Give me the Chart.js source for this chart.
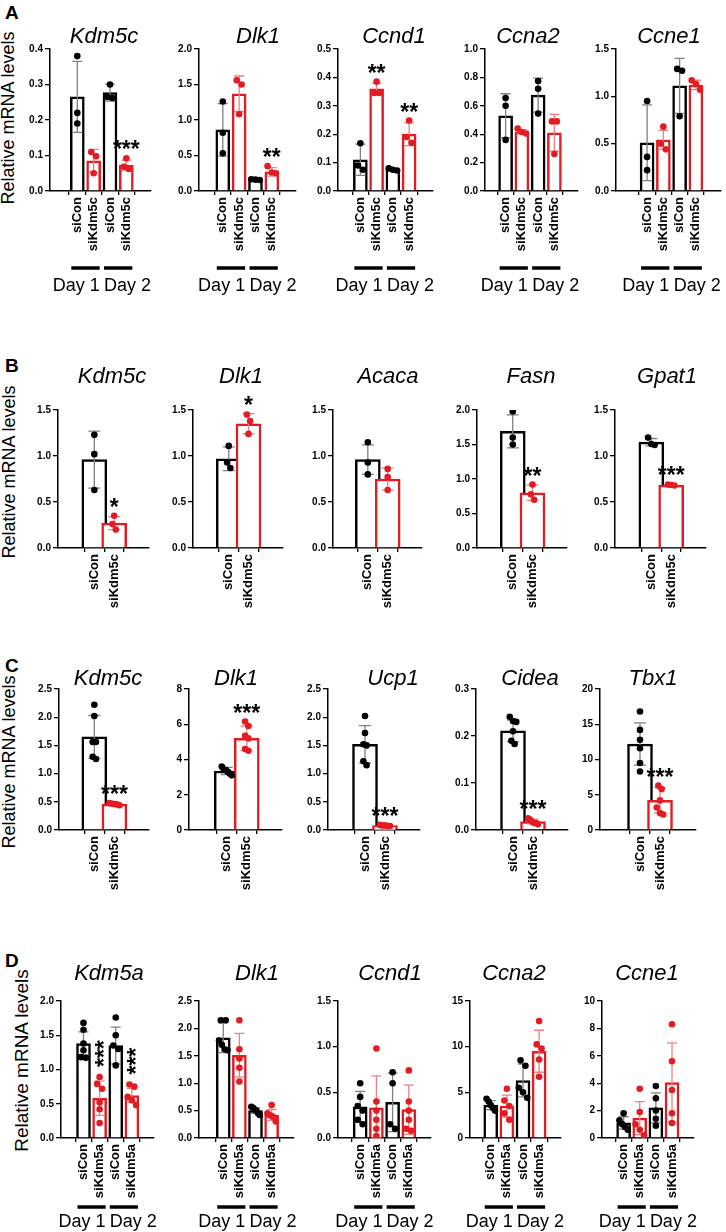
<!DOCTYPE html>
<html>
<head>
<meta charset="utf-8">
<script src="https://cdn.jsdelivr.net/npm/chart.js@4.4.1/dist/chart.umd.min.js"></script>
<style>
  body { margin: 0; background: #fff; width: 726px; height: 1232px; position: relative; overflow: hidden;
         font-family: 'Liberation Sans', Arial, sans-serif; color: #000; }
  canvas { position: absolute; }
  .letter { position: absolute; font-weight: bold; font-size: 19px; line-height: 19px; }
  .ytitle { position: absolute; width: 240px; text-align: center; white-space: nowrap; transform: rotate(-90deg); }
</style>
</head>
<body>
<div class="letter" style="left:5px;top:3px">A</div>
<div class="letter" style="left:5px;top:356px">B</div>
<div class="letter" style="left:5px;top:656px">C</div>
<div class="letter" style="left:5px;top:951px">D</div>

<script>
// ---- data ----
const labelsA = ['siCon', 'siKdm5c', 'siCon', 'siKdm5c'];
const labelsBC = ['siCon', 'siKdm5c'];
const labelsD = ['siCon', 'siKdm5a', 'siCon', 'siKdm5a'];
const dayLabels = ['Day 1', 'Day 2'];

const genesA = ['Kdm5c', 'Dlk1', 'Ccnd1', 'Ccna2', 'Ccne1'];
const genesB = ['Kdm5c', 'Dlk1', 'Acaca', 'Fasn', 'Gpat1'];
const genesC = ['Kdm5c', 'Dlk1', 'Ucp1', 'Cidea', 'Tbx1'];
const genesD = ['Kdm5a', 'Dlk1', 'Ccnd1', 'Ccna2', 'Ccne1'];

const yMaxA = [0.4, 2.0, 0.5, 1.0, 1.5];
const yStepA = [0.1, 0.5, 0.1, 0.2, 0.5];
const yMaxB = [1.5, 1.5, 1.5, 2.0, 1.5];
const yStepB = [0.5, 0.5, 0.5, 0.5, 0.5];
const yMaxC = [2.5, 8, 2.5, 0.3, 20];
const yStepC = [0.5, 2, 0.5, 0.1, 5];
const yMaxD = [2.0, 2.5, 1.5, 15, 10];
const yStepD = [0.5, 0.5, 0.5, 5, 2];

// panel A
const aKdm5cMean = [0.265, 0.085, 0.277, 0.073];
const aKdm5cSd = [0.10, 0.032, 0.024, 0.014];
const aKdm5cDots = [[0.38, 0.22, 0.19], [0.11, 0.098, 0.05], [0.30, 0.265, 0.262], [0.092, 0.068, 0.062]];
const aKdm5cStars = ['', '', '', '***'];

const aDlk1Mean = [0.86, 1.37, 0.16, 0.27];
const aDlk1Sd = [0.37, 0.25, 0.01, 0.06];
const aDlk1Dots = [[1.26, 0.82, 0.53], [1.56, 1.5, 1.08], [0.165, 0.16, 0.155], [0.35, 0.26, 0.25]];
const aDlk1Stars = ['', '', '', '**'];

const aCcnd1Mean = [0.11, 0.36, 0.075, 0.2];
const aCcnd1Sd = [0.055, 0.02, 0.005, 0.04];
const aCcnd1Dots = [[0.168, 0.09, 0.075], [0.385, 0.345, 0.345], [0.08, 0.075, 0.072], [0.248, 0.19, 0.17]];
const aCcnd1Stars = ['', '**', '', '**'];

const aCcna2Mean = [0.53, 0.417, 0.675, 0.41];
const aCcna2Sd = [0.155, 0.015, 0.12, 0.13];
const aCcna2Dots = [[0.655, 0.6, 0.36], [0.44, 0.415, 0.405], [0.775, 0.72, 0.545], [0.49, 0.49, 0.26]];
const aCcna2Stars = ['', '', '', ''];

const aCcne1Mean = [0.51, 0.54, 1.11, 1.12];
const aCcne1Sd = [0.40, 0.10, 0.29, 0.05];
const aCcne1Dots = [[0.95, 0.36, 0.22], [0.68, 0.5, 0.44], [1.29, 1.27, 0.79], [1.17, 1.13, 1.07]];
const aCcne1Stars = ['', '', '', ''];

// panel B
const bKdm5cMean = [0.96, 0.27];
const bKdm5cSd = [0.31, 0.07];
const bKdm5cDots = [[1.23, 1.02, 0.63], [0.35, 0.26, 0.2]];
const bKdm5cStars = ['', '*'];

const bDlk1Mean = [0.97, 1.35];
const bDlk1Sd = [0.13, 0.11];
const bDlk1Dots = [[1.11, 0.93, 0.87], [1.45, 1.38, 1.24]];
const bDlk1Stars = ['', '*'];

const bAcacaMean = [0.96, 0.75];
const bAcacaSd = [0.16, 0.12];
const bAcacaDots = [[1.15, 0.93, 0.8], [0.86, 0.77, 0.63]];
const bAcacaStars = ['', ''];

const bFasnMean = [1.69, 0.8];
const bFasnSd = [0.24, 0.11];
const bFasnDots = [[1.98, 1.6, 1.5], [0.92, 0.78, 0.7]];
const bFasnStars = ['', '**'];

const bGpat1Mean = [1.15, 0.685];
const bGpat1Sd = [0.04, 0.008];
const bGpat1Dots = [[1.2, 1.13, 1.12], [0.69, 0.685, 0.68]];
const bGpat1Stars = ['', '***'];

// panel C
const cKdm5cMean = [1.65, 0.46];
const cKdm5cSd = [0.38, 0.015];
const cKdm5cDots = [[2.22, 2.02, 1.56, 1.56, 1.3, 1.26], [0.48, 0.47, 0.46, 0.46, 0.45, 0.44]];
const cKdm5cStars = ['', '***'];

const cDlk1Mean = [3.35, 5.2];
const cDlk1Sd = [0.2, 0.7];
const cDlk1Dots = [[3.6, 3.45, 3.4, 3.3, 3.2, 3.1], [6.15, 5.9, 5.35, 5.2, 4.6, 4.5]];
const cDlk1Stars = ['', '***'];

const cUcp1Mean = [1.52, 0.08];
const cUcp1Sd = [0.33, 0.01];
const cUcp1Dots = [[2.02, 1.72, 1.52, 1.5, 1.22, 1.15], [0.09, 0.08, 0.08, 0.08, 0.07, 0.07]];
const cUcp1Stars = ['', '***'];

const cCideaMean = [0.211, 0.018];
const cCideaSd = [0.023, 0.005];
const cCideaDots = [[0.241, 0.232, 0.23, 0.21, 0.19, 0.183], [0.025, 0.022, 0.018, 0.015, 0.015, 0.012]];
const cCideaStars = ['', '***'];

const cTbx1Mean = [12.2, 4.2];
const cTbx1Sd = [3.0, 1.8];
const cTbx1Dots = [[16.8, 14.2, 12.8, 11.6, 9.5, 8.3], [6.3, 5.8, 4.2, 3.2, 2.4, 2.2]];
const cTbx1Stars = ['', '***'];

// panel D
const dKdm5aMean = [1.38, 0.58, 1.35, 0.62];
const dKdm5aSd = [0.17, 0.25, 0.27, 0.1];
const dKdm5aDots = [[1.68, 1.58, 1.38, 1.28, 1.18, 1.17], [0.89, 0.79, 0.72, 0.52, 0.42, 0.22],
                    [1.76, 1.5, 1.35, 1.3, 1.06], [0.78, 0.75, 0.6, 0.55, 0.48]];
const dKdm5aStars = ['', '***', '', '***'];

const dDlk1Mean = [1.83, 1.51, 0.5, 0.42];
const dDlk1Sd = [0.27, 0.4, 0.05, 0.1];
const dDlk1Dots = [[2.15, 2.15, 1.78, 1.7, 1.62, 1.6], [2.15, 1.62, 1.45, 1.28, 1.03],
                   [0.57, 0.55, 0.52, 0.5, 0.45, 0.42], [0.6, 0.45, 0.42, 0.4, 0.38, 0.3]];
const dDlk1Stars = ['', '', '', ''];

const dCcnd1Mean = [0.34, 0.33, 0.39, 0.31];
const dCcnd1Sd = [0.17, 0.35, 0.32, 0.27];
const dCcnd1Dots = [[0.6, 0.45, 0.35, 0.3, 0.2, 0.15], [0.98, 0.4, 0.3, 0.2, 0.1, 0.02],
                    [0.72, 0.6, 0.15, 0.1], [0.74, 0.4, 0.3, 0.2, 0.1, 0.08]];
const dCcnd1Stars = ['', '', '', ''];

const dCcna2Mean = [3.6, 3.5, 6.3, 9.5];
const dCcna2Sd = [0.5, 1.2, 1.8, 2.3];
const dCcna2Dots = [[4.3, 4.0, 3.6, 3.3, 3.0], [5.4, 4.1, 3.5, 2.7, 2.0],
                    [8.5, 7.9, 5.5, 5.0, 4.4], [12.8, 10.25, 9.8, 8.6, 6.7]];
const dCcna2Stars = ['', '', '', ''];

const dCcne1Mean = [1.1, 1.45, 2.2, 4.05];
const dCcne1Sd = [0.45, 1.2, 1.1, 2.9];
const dCcne1Dots = [[1.8, 1.3, 1.0, 0.8, 0.6], [3.6, 1.9, 1.0, 0.6, 0.2],
                    [3.8, 2.9, 2.0, 1.4, 0.9], [8.3, 5.6, 3.5, 1.8, 1.1]];
const dCcne1Stars = ['', '', '', ''];

// ---- layout (pixels on the page) ----
const RED = '#e31b23';
const ERR_BLACK = '#808080';
const ERR_RED = '#ee8080';
const FONT = "'Liberation Sans', Arial, sans-serif";

const rows = {
  A: { yTop: 49, yZero: 191, titleY: 43, dayLineY: 268, dayTextY: 291, step: 21.7, barW: 14, endGap: 16,
       axisX: [50, 199, 338, 485, 616], firstBar: [69.5, 214.5, 352, 497, 640], titleX: [104, 258, 394, 528, 669],
       yTitle: { x: 8, y: 118, size: 18 } },
  B: { yTop: 410, yZero: 548, titleY: 383, step: 39.5, barW: 25, endGap: 24,
       axisX: [58, 193, 333, 477, 615], firstBar: [85, 219.5, 358, 503.5, 642], titleX: [112, 241, 388, 531, 667],
       yTitle: { x: 9, y: 472, size: 18 } },
  C: { yTop: 689, yZero: 830, titleY: 685, step: 40, barW: 25, endGap: 24,
       axisX: [59, 189, 328, 476, 600], firstBar: [84.5, 218, 356, 504, 632], titleX: [108, 236, 393, 530, 653],
       yTitle: { x: 9, y: 762, size: 18 } },
  D: { yTop: 1001, yZero: 1138, titleY: 980, dayLineY: 1207, dayTextY: 1227, step: 21.5, barW: 14, endGap: 14,
       axisX: [61, 199, 338, 470, 602], firstBar: [75.5, 215.5, 352, 482.5, 615.5], titleX: [109, 257, 390, 514, 647],
       yTitle: { x: 21, y: 1060, size: 19 } }
};

const panels = [
  ['A', 0, aKdm5cMean, aKdm5cSd, aKdm5cDots, aKdm5cStars],
  ['A', 1, aDlk1Mean, aDlk1Sd, aDlk1Dots, aDlk1Stars],
  ['A', 2, aCcnd1Mean, aCcnd1Sd, aCcnd1Dots, aCcnd1Stars],
  ['A', 3, aCcna2Mean, aCcna2Sd, aCcna2Dots, aCcna2Stars],
  ['A', 4, aCcne1Mean, aCcne1Sd, aCcne1Dots, aCcne1Stars],
  ['B', 0, bKdm5cMean, bKdm5cSd, bKdm5cDots, bKdm5cStars],
  ['B', 1, bDlk1Mean, bDlk1Sd, bDlk1Dots, bDlk1Stars],
  ['B', 2, bAcacaMean, bAcacaSd, bAcacaDots, bAcacaStars],
  ['B', 3, bFasnMean, bFasnSd, bFasnDots, bFasnStars],
  ['B', 4, bGpat1Mean, bGpat1Sd, bGpat1Dots, bGpat1Stars],
  ['C', 0, cKdm5cMean, cKdm5cSd, cKdm5cDots, cKdm5cStars],
  ['C', 1, cDlk1Mean, cDlk1Sd, cDlk1Dots, cDlk1Stars],
  ['C', 2, cUcp1Mean, cUcp1Sd, cUcp1Dots, cUcp1Stars],
  ['C', 3, cCideaMean, cCideaSd, cCideaDots, cCideaStars],
  ['C', 4, cTbx1Mean, cTbx1Sd, cTbx1Dots, cTbx1Stars],
  ['D', 0, dKdm5aMean, dKdm5aSd, dKdm5aDots, dKdm5aStars],
  ['D', 1, dDlk1Mean, dDlk1Sd, dDlk1Dots, dDlk1Stars],
  ['D', 2, dCcnd1Mean, dCcnd1Sd, dCcnd1Dots, dCcnd1Stars],
  ['D', 3, dCcna2Mean, dCcna2Sd, dCcna2Dots, dCcna2Stars],
  ['D', 4, dCcne1Mean, dCcne1Sd, dCcne1Dots, dCcne1Stars]
];

const genesByRow = { A: genesA, B: genesB, C: genesC, D: genesD };
const labelsByRow = { A: labelsA, B: labelsBC, C: labelsBC, D: labelsD };
const yMaxByRow = { A: yMaxA, B: yMaxB, C: yMaxC, D: yMaxD };
const yStepByRow = { A: yStepA, B: yStepB, C: yStepC, D: yStepD };

Chart.defaults.font.family = FONT;
Chart.defaults.color = '#000';

// y-axis titles
Object.keys(rows).forEach(r => {
  const t = rows[r].yTitle;
  const div = document.createElement('div');
  div.className = 'ytitle';
  div.textContent = 'Relative mRNA levels';
  div.style.fontSize = t.size + 'px';
  div.style.lineHeight = t.size + 'px';
  div.style.left = (t.x - 120) + 'px';
  div.style.top = (t.y - t.size / 2) + 'px';
  document.body.appendChild(div);
});

// spread dots sideways when they overlap (simple beeswarm), offsets in px
function spreadDots(vals, pxPerUnit, dotPx, maxHalf) {
  const order = vals.map((v, i) => i).sort((a, b) => vals[b] - vals[a]);
  const off = new Array(vals.length).fill(0);
  const groups = [];
  let g = [order[0]];
  for (let k = 1; k < order.length; k++) {
    const prev = g[g.length - 1];
    if ((vals[prev] - vals[order[k]]) * pxPerUnit < dotPx) g.push(order[k]);
    else { groups.push(g); g = [order[k]]; }
  }
  groups.push(g);
  groups.forEach(gr => {
    const gap = gr.length > 1 ? Math.min(dotPx, (2 * maxHalf) / (gr.length - 1)) : 0;
    gr.forEach((i, j) => { off[i] = (j - (gr.length - 1) / 2) * gap; });
  });
  return off;
}

function makePanel(rowKey, k, mean, sd, dots, stars) {
  const row = rows[rowKey];
  const labels = labelsByRow[rowKey];
  const gene = genesByRow[rowKey][k];
  const yMax = yMaxByRow[rowKey][k];
  const yStep = yStepByRow[rowKey][k];
  const n = mean.length;

  const axisX = row.axisX[k];
  const c0 = row.firstBar[k];
  const endX = c0 + (n - 1) * row.step + row.endGap;
  const plotH = row.yZero - row.yTop;
  const topSpace = 50, xAxisH = 90;
  const leftSpace = 40, rightSpace = 14;

  const cvLeft = axisX - leftSpace;
  const cvTop = row.yTop - topSpace;
  const cvW = Math.round(endX - axisX + leftSpace + rightSpace);
  const cvH = plotH + topSpace + 115;

  const canvas = document.createElement('canvas');
  canvas.width = cvW; canvas.height = cvH;
  canvas.style.left = cvLeft + 'px';
  canvas.style.top = cvTop + 'px';
  canvas.style.width = cvW + 'px';
  canvas.style.height = cvH + 'px';
  document.body.appendChild(canvas);

  const colors = labels.map(l => l === 'siCon' ? '#000' : RED);
  const xMin = (axisX - c0) / row.step;
  const xMax = (endX - c0) / row.step;
  const pxPerUnit = plotH / yMax;
  const pxPerX = row.step;

  const dotPts = [], dotColors = [];
  dots.forEach((grp, i) => {
    const offs = spreadDots(grp, pxPerUnit, 6.5, row.barW * 0.4);
    grp.forEach((v, j) => {
      dotPts.push({ x: i + offs[j] / pxPerX, y: v });
      dotColors.push(colors[i]);
    });
  });

  const deco = {
    id: 'deco',
    afterDatasetDraw(chart, args) {
      if (args.index !== 0) return;
      const ctx = chart.ctx, ys = chart.scales.y;
      const bars = chart.getDatasetMeta(0).data;
      ctx.save();
      ctx.lineWidth = 1.3;
      bars.forEach((b, i) => {
        const top = ys.getPixelForValue(mean[i] + sd[i]);
        const bot = ys.getPixelForValue(Math.max(0, mean[i] - sd[i]));
        const cap = row.barW >= 20 ? 6 : 5;
        ctx.strokeStyle = colors[i] === '#000' ? ERR_BLACK : ERR_RED;
        ctx.beginPath();
        ctx.moveTo(b.x, top); ctx.lineTo(b.x, bot);
        ctx.moveTo(b.x - cap, top); ctx.lineTo(b.x + cap, top);
        ctx.moveTo(b.x - cap, bot); ctx.lineTo(b.x + cap, bot);
        ctx.stroke();
      });
      ctx.restore();
    },
    afterDraw(chart) {
      const ctx = chart.ctx, ys = chart.scales.y;
      const bars = chart.getDatasetMeta(0).data;
      ctx.save();
      // gene title
      ctx.fillStyle = '#000';
      ctx.font = 'italic 22px ' + FONT;
      ctx.textAlign = 'center';
      ctx.textBaseline = 'alphabetic';
      ctx.fillText(gene, row.titleX[k] - cvLeft, row.titleY - cvTop);
      // significance stars
      ctx.font = 'bold 23px ' + FONT;
      bars.forEach((b, i) => {
        if (!stars[i]) return;
        const hi = Math.max(mean[i] + sd[i], ...dots[i]);
        const py = ys.getPixelForValue(hi) - 4;
        if (rowKey === 'D') {
          ctx.save();
          ctx.translate(b.x + 12, py - 6);
          ctx.rotate(-Math.PI / 2);
          ctx.textAlign = 'left';
          ctx.fillText(stars[i], 0, 0);
          ctx.restore();
        } else {
          ctx.textAlign = 'center';
          ctx.fillText(stars[i], b.x, py + 3);
        }
      });
      // day brackets: a bar under each pair, labels pulled apart from each other
      if (row.dayLineY) {
        ctx.font = '18px ' + FONT;
        ctx.lineWidth = 3.5;
        ctx.strokeStyle = '#000';
        dayLabels.forEach((d, p) => {
          const b1 = bars[2 * p], b2 = bars[2 * p + 1];
          const x1 = b1.x - b1.width / 2 + 1, x2 = b2.x + b2.width / 2 - 1;
          ctx.beginPath();
          ctx.moveTo(x1, row.dayLineY - cvTop);
          ctx.lineTo(x2, row.dayLineY - cvTop);
          ctx.stroke();
          if (p === 0) {
            ctx.textAlign = 'right';
            ctx.fillText(d, x2, row.dayTextY - cvTop);
          } else {
            ctx.textAlign = 'left';
            ctx.fillText(d, x1, row.dayTextY - cvTop);
          }
        });
      }
      ctx.restore();
    }
  };

  return new Chart(canvas, {
    data: {
      datasets: [
        {
          type: 'bar',
          data: mean.map((m, i) => ({ x: i, y: m })),
          backgroundColor: '#fff',
          borderColor: colors,
          borderWidth: 2.5,
          barThickness: row.barW,
          order: 2
        },
        {
          type: 'scatter',
          data: dotPts,
          pointRadius: 3.3,
          pointBorderWidth: 0,
          pointBackgroundColor: dotColors,
          order: 1
        }
      ]
    },
    options: {
      responsive: false,
      animation: false,
      devicePixelRatio: 1,
      layout: { padding: { left: 0, right: rightSpace, top: topSpace, bottom: cvH - xAxisH - topSpace - plotH } },
      plugins: { legend: { display: false }, tooltip: { enabled: false }, title: { display: false } },
      scales: {
        x: {
          type: 'linear',
          min: xMin,
          max: xMax,
          afterBuildTicks: s => { s.ticks = labels.map((l, i) => ({ value: i })); },
          afterFit: s => { s.height = xAxisH; },
          ticks: {
            autoSkip: false,
            minRotation: 90,
            maxRotation: 90,
            padding: 2,
            font: { size: 13, weight: 'bold' },
            callback: v => labels[v]
          },
          grid: { drawOnChartArea: false, tickLength: 4, color: '#000', lineWidth: 1.3 },
          border: { color: '#000', width: 1.5 }
        },
        y: {
          type: 'linear',
          min: 0,
          max: yMax,
          afterFit: s => { s.width = leftSpace; },
          ticks: {
            stepSize: yStep,
            padding: 2,
            font: { size: 10, weight: 'bold' },
            callback: v => yStep < 1 ? v.toFixed(1) : String(v)
          },
          grid: { drawOnChartArea: false, tickLength: 5, color: '#000', lineWidth: 1.3 },
          border: { color: '#000', width: 1.5 }
        }
      }
    },
    plugins: [deco]
  });
}

panels.forEach(p => makePanel(...p));
</script>
</body>
</html>
